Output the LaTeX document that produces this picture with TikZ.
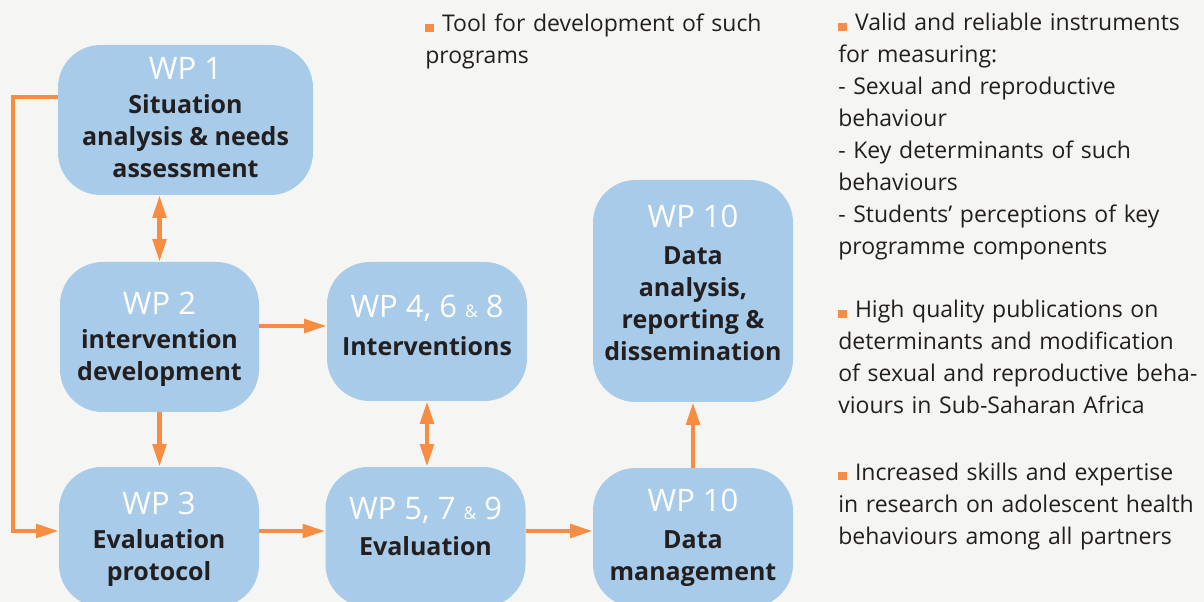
\documentclass[tikz,border=0pt]{standalone}
\usepackage{fontspec}
\setmainfont{Open Sans}
\usetikzlibrary{arrows.meta}
\definecolor{bgc}{HTML}{F5F6F3}
\definecolor{boxc}{HTML}{A7CBE8}
\definecolor{arrc}{HTML}{F68D43}
\definecolor{txtc}{HTML}{231F20}
\newcommand{\bul}{\textcolor{arrc}{\rule{6.8pt}{6.2pt}}\ }
\begin{document}
\begin{tikzpicture}[x=0.75pt,y=-0.75pt,
  wpbox/.style={fill=boxc, rounded corners=32pt, inner sep=0pt, draw=none, minimum width=150pt},
  wplab/.style={text=white, font=\fontsize{23.25}{24}\selectfont, anchor=base, inner sep=0pt},
  desc/.style={text=txtc, font=\fontsize{18.75}{24}\selectfont\bfseries, align=center, inner sep=0pt},
  side/.style={text=txtc, font=\fontsize{17.25}{24}\selectfont, align=left, anchor=base west, inner sep=0pt, text width=280pt},
  arr/.style={draw=arrc, line width=3.3pt, -{Triangle[length=17pt,width=10pt]}},
  darr/.style={draw=arrc, line width=3.3pt, {Triangle[length=17pt,width=10pt]}-{Triangle[length=17pt,width=10pt]}}
]
\fill[bgc] (0,0) rectangle (1204,602);
\useasboundingbox (0,0) rectangle (1204,602);
\clip (0,0) rectangle (1204,602);

% boxes
\node[wpbox, minimum width=191.25pt, minimum height=112.5pt] (b1) at (185.5,120) {};
\node[wpbox, minimum width=149.25pt, minimum height=112.5pt] (b2) at (159.5,337) {};
\node[wpbox, minimum height=104.25pt] (b4) at (427,331.5) {};
\node[wpbox, minimum height=105pt] (b3) at (159,537) {};
\node[wpbox, minimum height=105pt] (b5) at (425.5,537) {};
\node[wpbox, minimum height=104.25pt] (b6) at (693,537.5) {};
\node[wpbox, minimum height=166.5pt] (b7) at (693,291) {};

% labels
\node[wplab] (l1) at (185.5,80) {WP 1};
\node[desc] (d1) at (185.5,136) {Situation\\analysis \& needs\\assessment};
\node[wplab] (l2) at (159.5,315) {WP 2};
\node[desc] (d2) at (159.5,358) {intervention\\development};
\node[wplab] (l4) at (427,318) {WP 4, 6 {\fontsize{13}{13}\selectfont\&} 8};
\node[desc] (d4) at (427,346) {Interventions};
\node[wplab] (l3) at (159,514) {WP 3};
\node[desc] (d3) at (159,558) {Evaluation\\protocol};
\node[wplab] (l5) at (425.5,519) {WP 5, 7 {\fontsize{13}{13}\selectfont\&} 9};
\node[desc] (d5) at (425.5,546) {Evaluation};
\node[wplab] (l6) at (693,511) {WP 10};
\node[desc] (d6) at (693,559) {Data\\management};
\node[wplab] (l7) at (693,228) {WP 10};
\node[desc] (d7) at (693,304) {Data\\analysis,\\reporting \&\\dissemination};

% side texts
\node[side] (s1) at (425,32) {\bul Tool for development of such\\programs};
\node[side] (s2) at (838,31) {\bul Valid and reliable instruments\\for measuring:\\- Sexual and reproductive\\behaviour\\- Key determinants of such\\behaviours\\- Students’ perceptions of key\\programme components};
\node[side] (s3) at (838,318) {\bul High quality publications on\\determinants and modification\\of sexual and reproductive beha-\\viours in Sub-Saharan Africa};
\node[side] (s4) at (838,480) {\bul Increased skills and expertise\\in research on adolescent health\\behaviours among all partners};

% connectors
\coordinate (loop) at (13,97);
\coordinate (rowA) at (0,326);
\coordinate (rowB) at (0,531);
\draw[darr] (b1.south -| b2.north) -- (b2.north);
\draw[arr] (b2.east |- rowA) -- (b4.west |- rowA);
\draw[arr] (b2.south) -- (b2.south |- b3.north);
\draw[darr] (b4.south) -- (b4.south |- b5.north);
\draw[arr] (b3.east |- rowB) -- (b5.west |- rowB);
\draw[arr] (b5.east |- rowB) -- (b6.west |- rowB);
\draw[arr] (b6.north) -- (b7.south);
\draw[arr] (b1.west |- loop) -- (loop) |- (b3.west |- rowB);
\end{tikzpicture}
\end{document}
